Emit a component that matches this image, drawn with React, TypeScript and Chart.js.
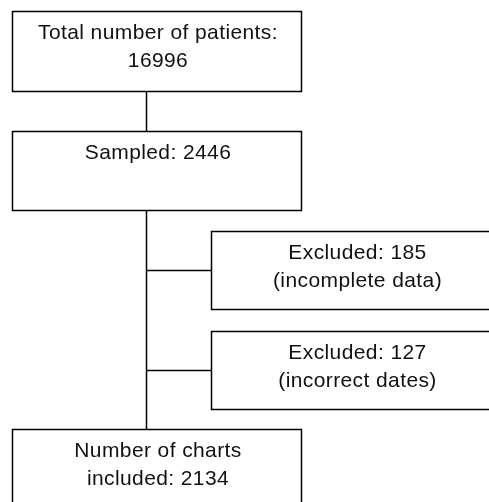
import React, { useEffect, useRef } from "react";
import { Chart, registerables } from "chart.js";

Chart.register(...registerables);

// ---- data ----
const stepNames = ["total", "sampled", "excl1", "excl2", "included"];
const stepCounts = [16996, 2446, 185, 127, 2134];
const stepLines: string[][] = [
  ["Total number of patients:", String(stepCounts[0])],
  ["Sampled: " + stepCounts[1]],
  ["Excluded: " + stepCounts[2], "(incomplete data)"],
  ["Excluded: " + stepCounts[3], "(incorrect dates)"],
  ["Number of charts", "included: " + stepCounts[4]],
];
// box extents in chart units (x0, x1, y0, y1)
const boxX0 = [12, 12, 211, 211, 12];
const boxX1 = [301, 301, 501, 501, 301];
const boxY0 = [11, 131, 231, 331, 429];
const boxY1 = [91, 210, 309, 409, 510];
// connectors: spine x and branch rows
const spineX = 146;
const branchY = [270, 370];
const branchTarget = [2, 3];

const flowPlugin = {
  id: "flow",
  afterDatasetsDraw(chart: any) {
    const { ctx, scales } = chart;
    const xs = scales.x;
    const ys = scales.y;
    const px = (v: number) => Math.round(xs.getPixelForValue(v)) + 0.5;
    const py = (v: number) => Math.round(ys.getPixelForValue(v)) + 0.5;
    ctx.save();
    ctx.strokeStyle = "#000";
    ctx.lineWidth = 1.5;
    // connectors
    ctx.beginPath();
    ctx.moveTo(px(spineX), py(boxY1[0]));
    ctx.lineTo(px(spineX), py(boxY0[1]));
    ctx.moveTo(px(spineX), py(boxY1[1]));
    ctx.lineTo(px(spineX), py(boxY0[4]));
    branchY.forEach((by, i) => {
      ctx.moveTo(px(spineX), py(by));
      ctx.lineTo(px(boxX0[branchTarget[i]]), py(by));
    });
    ctx.stroke();
    // boxes
    stepNames.forEach((_, i) => {
      const x0 = px(boxX0[i]);
      const x1 = px(boxX1[i]);
      const y0 = py(boxY0[i]);
      const y1 = py(boxY1[i]);
      ctx.fillStyle = "#fff";
      ctx.fillRect(x0, y0, x1 - x0, y1 - y0);
      ctx.strokeRect(x0, y0, x1 - x0, y1 - y0);
      ctx.fillStyle = "#111";
      ctx.font = "21px 'Liberation Sans', Arial, sans-serif";
      try {
        (ctx as any).letterSpacing = "0.4px";
      } catch (e) {}
      ctx.textAlign = "center";
      ctx.textBaseline = "middle";
      const cx = (x0 + x1) / 2 + 1;
      stepLines[i].forEach((line, j) => {
        ctx.fillText(line, cx, y0 + 22 + j * 28);
      });
    });
    ctx.restore();
  },
};

export default function App() {
  const ref = useRef<HTMLCanvasElement>(null);
  useEffect(() => {
    if (!ref.current) return;
    const chart = new Chart(ref.current, {
      type: "scatter",
      data: {
        datasets: [
          {
            data: stepNames.map((_, i) => ({
              x: (boxX0[i] + boxX1[i]) / 2,
              y: (boxY0[i] + boxY1[i]) / 2,
            })),
            pointRadius: 0,
          },
        ],
      },
      options: {
        animation: false,
        responsive: false,
        maintainAspectRatio: false,
        layout: { padding: 0 },
        plugins: { legend: { display: false }, tooltip: { enabled: false } },
        scales: {
          x: { type: "linear", min: 0, max: 489, display: false },
          y: { type: "linear", min: 0, max: 502, reverse: true, display: false },
        },
      },
      plugins: [flowPlugin],
    });
    return () => chart.destroy();
  }, []);
  return (
    <div style={{ position: "absolute", left: 0, top: 0, width: 489, height: 502, background: "#fff" }}>
      <canvas ref={ref} width={489} height={502} style={{ display: "block" }} />
    </div>
  );
}
